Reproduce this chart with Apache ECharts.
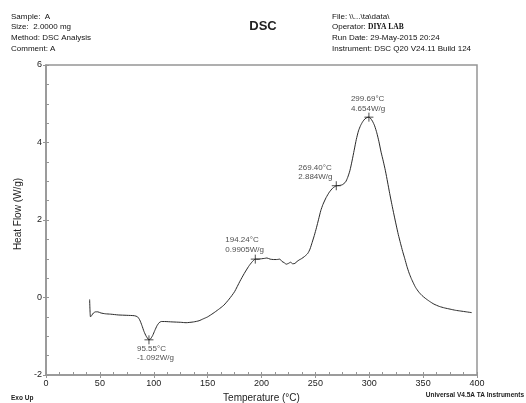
<!DOCTYPE html>
<html>
<head>
<meta charset="utf-8">
<script src="https://cdn.jsdelivr.net/npm/echarts@6/dist/echarts.min.js"></script>
<style>
  html, body { margin: 0; padding: 0; background: #fff; }
  #chart { width: 526px; height: 403px; }
</style>
</head>
<body>
<div id="chart"></div>
<script>
// DSC thermogram: temperature (°C) vs heat flow (W/g)
const temperature = [
  40.5, 40.8, 41.3, 42.5, 44, 46, 48, 51, 55, 60, 67, 75, 82, 85, 87, 89, 91, 93, 95, 95.55,
  97, 99, 101, 103, 105, 107, 110, 117, 125, 130, 137, 142, 146, 150, 155, 160, 165, 170, 175,
  180, 184, 188, 191, 194.24, 197, 200, 203, 205, 208, 211, 214, 217, 219, 221, 223, 225, 227,
  229, 231, 233, 235, 237, 240, 243, 245, 247, 249, 251, 253, 255, 257, 260, 263, 266, 269.40,
  272, 275, 278, 280, 282, 284, 286, 288, 290, 292, 294, 296, 298, 299.69, 301, 303, 305, 307,
  309, 311, 313, 315, 317, 319, 321, 323, 325, 327, 329, 331, 333, 335, 337, 339, 341, 343,
  346, 349, 352, 356, 360, 365, 370, 375, 380, 385, 390, 395
];
const heatFlow = [
  -0.05, -0.30, -0.50, -0.46, -0.40, -0.37, -0.37, -0.40, -0.42, -0.43, -0.45, -0.46, -0.47, -0.50, -0.58, -0.72, -0.88, -1.00, -1.08, -1.092,
  -1.07, -0.98, -0.85, -0.73, -0.65, -0.62, -0.62, -0.63, -0.64, -0.65, -0.63, -0.60, -0.55, -0.50, -0.41, -0.31, -0.20, -0.04, 0.15,
  0.42, 0.62, 0.80, 0.91, 0.9905, 0.99, 1.00, 1.01, 1.02, 0.99, 0.98, 0.98, 0.99, 0.93, 0.90, 0.86, 0.88, 0.91,
  0.87, 0.88, 0.93, 0.97, 1.00, 1.06, 1.14, 1.25, 1.42, 1.60, 1.80, 2.02, 2.24, 2.40, 2.58, 2.72, 2.82, 2.884,
  2.89, 2.91, 2.98, 3.10, 3.27, 3.52, 3.80, 4.08, 4.30, 4.44, 4.54, 4.61, 4.645, 4.654, 4.63, 4.55, 4.43, 4.25,
  4.02, 3.75, 3.52, 3.27, 2.98, 2.68, 2.40, 2.13, 1.87, 1.62, 1.40, 1.19, 1.00, 0.80, 0.63, 0.49, 0.37, 0.26,
  0.14, 0.05, -0.02, -0.10, -0.17, -0.23, -0.27, -0.30, -0.33, -0.35, -0.37, -0.39
];

// Analysed peak / event points
const eventTemp = [95.55, 194.24, 269.40, 299.69];
const eventFlow = [-1.092, 0.9905, 2.884, 4.654];

// Axis ranges and tick steps
const xRange = [0, 400];
const xMajorStep = 50;
const xMinorStep = 12.5;
const yRange = [-2, 6];
const yMajorStep = 2;
const yMinorStep = 0.5;

// Header text
const headerLeft = ['Sample:  A', 'Size:  2.0000 mg', 'Method: DSC Analysis', 'Comment: A'];
const headerRight = ['File: \\\\...\\ta\\data\\', 'Operator: {op|DIYA LAB}', 'Run Date: 29-May-2015 20:24', 'Instrument: DSC Q20 V24.11 Build 124'];
const chartTitle = 'DSC';
const xName = 'Temperature (°C)';
const yName = 'Heat Flow (W/g)';

const FONT = '"Liberation Sans", Arial, sans-serif';
const axisGray = '#959595';
const curveColor = '#2a2a2a';

const chart = echarts.init(document.getElementById('chart'), null, { renderer: 'canvas' });

// label offsets relative to the marker's box (top-left corner)
const labelPlace = [[-7, 9], [-25, -19], [-33, -18], [-13, -18]];

const curve = temperature.map((t, i) => [t, heatFlow[i]]);
const events = eventTemp.map((t, i) => ({
  value: [t, eventFlow[i]],
  label: {
    show: true,
    position: labelPlace[i],
    align: 'left',
    verticalAlign: 'top',
    formatter: t.toFixed(2) + '°C\n' + eventFlow[i].toPrecision(4) + 'W/g'
  }
}));

const headerText = (lines, x) => ({
  type: 'text',
  left: x,
  top: 11,
  style: {
    text: lines.join('\n'),
    font: '8px ' + FONT,
    lineHeight: 10.8,
    fill: '#111',
    rich: { op: { fontFamily: '"Liberation Serif", serif', fontWeight: 'bold', fontSize: 7.5, fill: '#111' } }
  }
});

chart.setOption({
  animation: false,
  backgroundColor: '#ffffff',
  title: {
    text: chartTitle,
    left: 'center',
    top: 15,
    textStyle: { fontFamily: FONT, fontSize: 13, fontWeight: 'bold', color: '#222' }
  },
  graphic: [
    headerText(headerLeft, 11),
    headerText(headerRight, 332),
    { type: 'text', left: 11, top: 395, style: { text: 'Exo Up', font: 'bold 6.5px ' + FONT, fill: '#222' } },
    { type: 'text', right: 2, top: 392, style: { text: 'Universal V4.5A TA Instruments', font: 'bold 6.5px ' + FONT, fill: '#222' } }
  ],
  grid: {
    left: 46, right: 49, top: 65, bottom: 28,
    containLabel: false,
    outerBoundsMode: 'none',
    show: true, borderColor: axisGray, borderWidth: 1.5, backgroundColor: 'transparent'
  },
  xAxis: [{
    type: 'value', min: xRange[0], max: xRange[1], interval: xMajorStep,
    name: xName, nameLocation: 'middle', nameGap: 18,
    nameTextStyle: { fontFamily: FONT, fontSize: 10, color: '#222' },
    axisLine: { onZero: false, lineStyle: { color: axisGray, width: 1.5 } },
    axisTick: { show: true, length: 3, lineStyle: { color: axisGray } },
    axisLabel: { fontFamily: FONT, fontSize: 9, color: '#222', margin: 4 },
    splitLine: { show: false }
  }, {
    type: 'value', min: xRange[0], max: xRange[1], interval: xMinorStep, position: 'bottom',
    axisLine: { show: false, onZero: false },
    axisTick: { show: true, inside: true, length: 3, lineStyle: { color: axisGray } },
    axisLabel: { show: false },
    splitLine: { show: false }
  }],
  yAxis: [{
    type: 'value', min: yRange[0], max: yRange[1], interval: yMajorStep,
    name: yName, nameLocation: 'middle', nameGap: 23, nameRotate: 90,
    nameTextStyle: { fontFamily: FONT, fontSize: 10, color: '#222', padding: [0, 0, 0, 12] },
    axisLine: { show: true, onZero: false, lineStyle: { color: axisGray, width: 1.5 } },
    axisTick: { show: true, length: 3, lineStyle: { color: axisGray } },
    axisLabel: { fontFamily: FONT, fontSize: 9, color: '#222', margin: 4 },
    splitLine: { show: false }
  }, {
    type: 'value', min: yRange[0], max: yRange[1], interval: yMinorStep, position: 'left',
    axisLine: { show: false, onZero: false },
    axisTick: { show: true, inside: true, length: 3, lineStyle: { color: axisGray } },
    axisLabel: { show: false },
    splitLine: { show: false }
  }],
  series: [{
    type: 'line',
    data: curve,
    showSymbol: false,
    smooth: 0.2,
    lineStyle: { color: curveColor, width: 1 },
    z: 3
  }, {
    type: 'scatter',
    data: events,
    symbol: 'path://M0,5L10,5M5,0L5,10',
    symbolSize: 9,
    itemStyle: { color: 'transparent', borderColor: '#222', borderWidth: 1 },
    label: { fontFamily: FONT, fontSize: 8, lineHeight: 9.5, color: '#222' },
    z: 4
  }]
});
</script>
</body>
</html>
